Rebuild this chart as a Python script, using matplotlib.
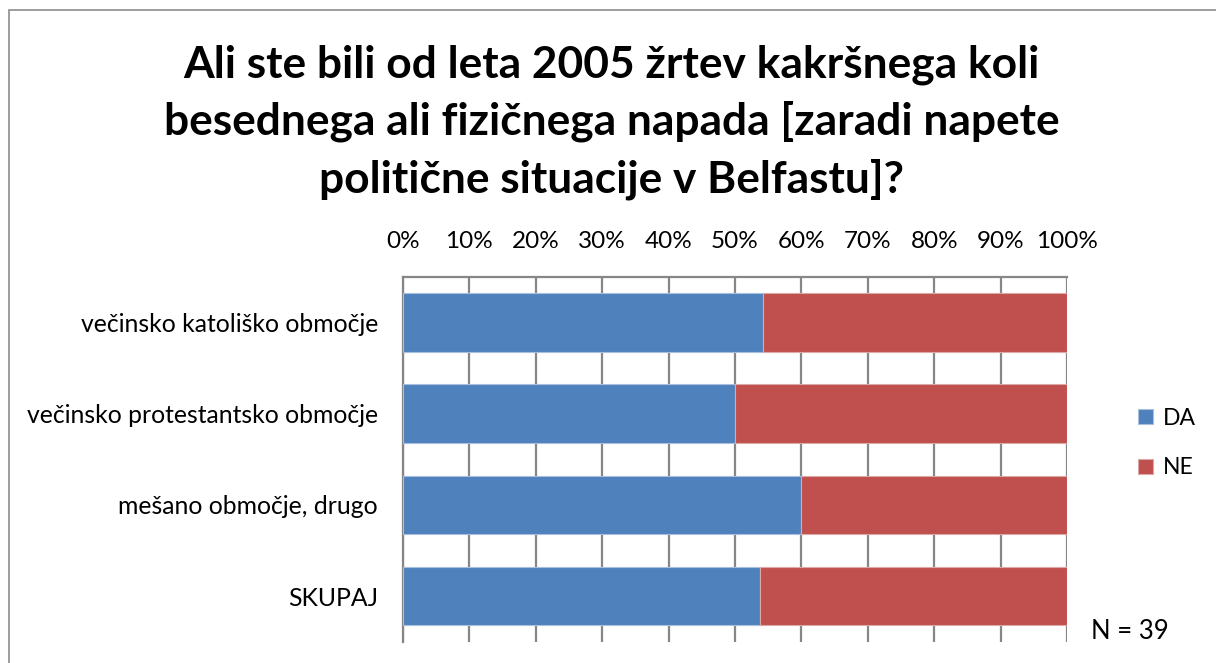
import matplotlib.pyplot as plt
import matplotlib.patches as mpatches
from matplotlib.ticker import PercentFormatter

plt.rcParams['font.family'] = ['Lato', 'DejaVu Sans']

# Survey answers by area (share of respondents, %)
categories = ["večinsko katoliško območje",
              "večinsko protestantsko območje",
              "mešano območje, drugo",
              "SKUPAJ"]
da_values = [54.2, 50.0, 60.0, 53.8]
ne_values = [45.8, 50.0, 40.0, 46.2]
series_names = ["DA", "NE"]
colors = ["#4F81BD", "#C0504D"]
x_ticks = [0, 10, 20, 30, 40, 50, 60, 70, 80, 90, 100]
n_label = "N = 39"
title = ("Ali ste bili od leta 2005 žrtev kakršnega koli\n"
         "besednega ali fizičnega napada [zaradi napete\n"
         "politične situacije v Belfastu]?")

fig = plt.figure(figsize=(12.16, 6.63), dpi=100)
ax = fig.add_axes([0.3314, 0.0321, 0.5461, 0.5506])

# chart frame
fig.patches.append(mpatches.Rectangle((9 / 1216, -0.05), 1.2, 1 - 10 / 663 + 0.05,
                                      transform=fig.transFigure, fill=False,
                                      edgecolor="#8c8c8c", linewidth=1.2))

ypos = list(range(len(categories)))
ax.barh(ypos, da_values, height=0.64, color=colors[0], label=series_names[0],
        edgecolor="#a9bfdf", linewidth=0.8, zorder=3)
ax.barh(ypos, ne_values, left=da_values, height=0.64, color=colors[1],
        label=series_names[1], edgecolor="#dca9a8", linewidth=0.8, zorder=3)

ax.set_xlim(0, 100)
ax.set_ylim(len(categories) - 0.5, -0.5)
ax.set_xticks(x_ticks)
ax.xaxis.set_major_formatter(PercentFormatter(decimals=0))
ax.xaxis.tick_top()
ax.tick_params(axis='x', length=0, pad=18, labelsize=17.5)
ax.set_yticks(ypos)
ax.set_yticklabels(categories, fontsize=17.8)
ax.tick_params(axis='y', length=0, pad=18)
ax.grid(axis='x', color="#868686", linewidth=1.6, zorder=1)

for side in ['right', 'bottom']:
    ax.spines[side].set_visible(False)
for side in ['top', 'left']:
    ax.spines[side].set_color("#868686")
    ax.spines[side].set_linewidth(1.6)

fig.text(0.503, 0.933, title, ha='center', va='top', fontsize=31.9,
         fontweight='bold', linespacing=1.47)

leg = fig.legend(loc='upper left', bbox_to_anchor=(0.919, 0.416), frameon=False,
                 fontsize=16.5, handlelength=0.65, handleheight=0.65,
                 handletextpad=0.45, labelspacing=1.25)

fig.text(0.897, 0.048, n_label, ha='left', va='center', fontsize=18.5)

fig.savefig("out.png", dpi=100)
